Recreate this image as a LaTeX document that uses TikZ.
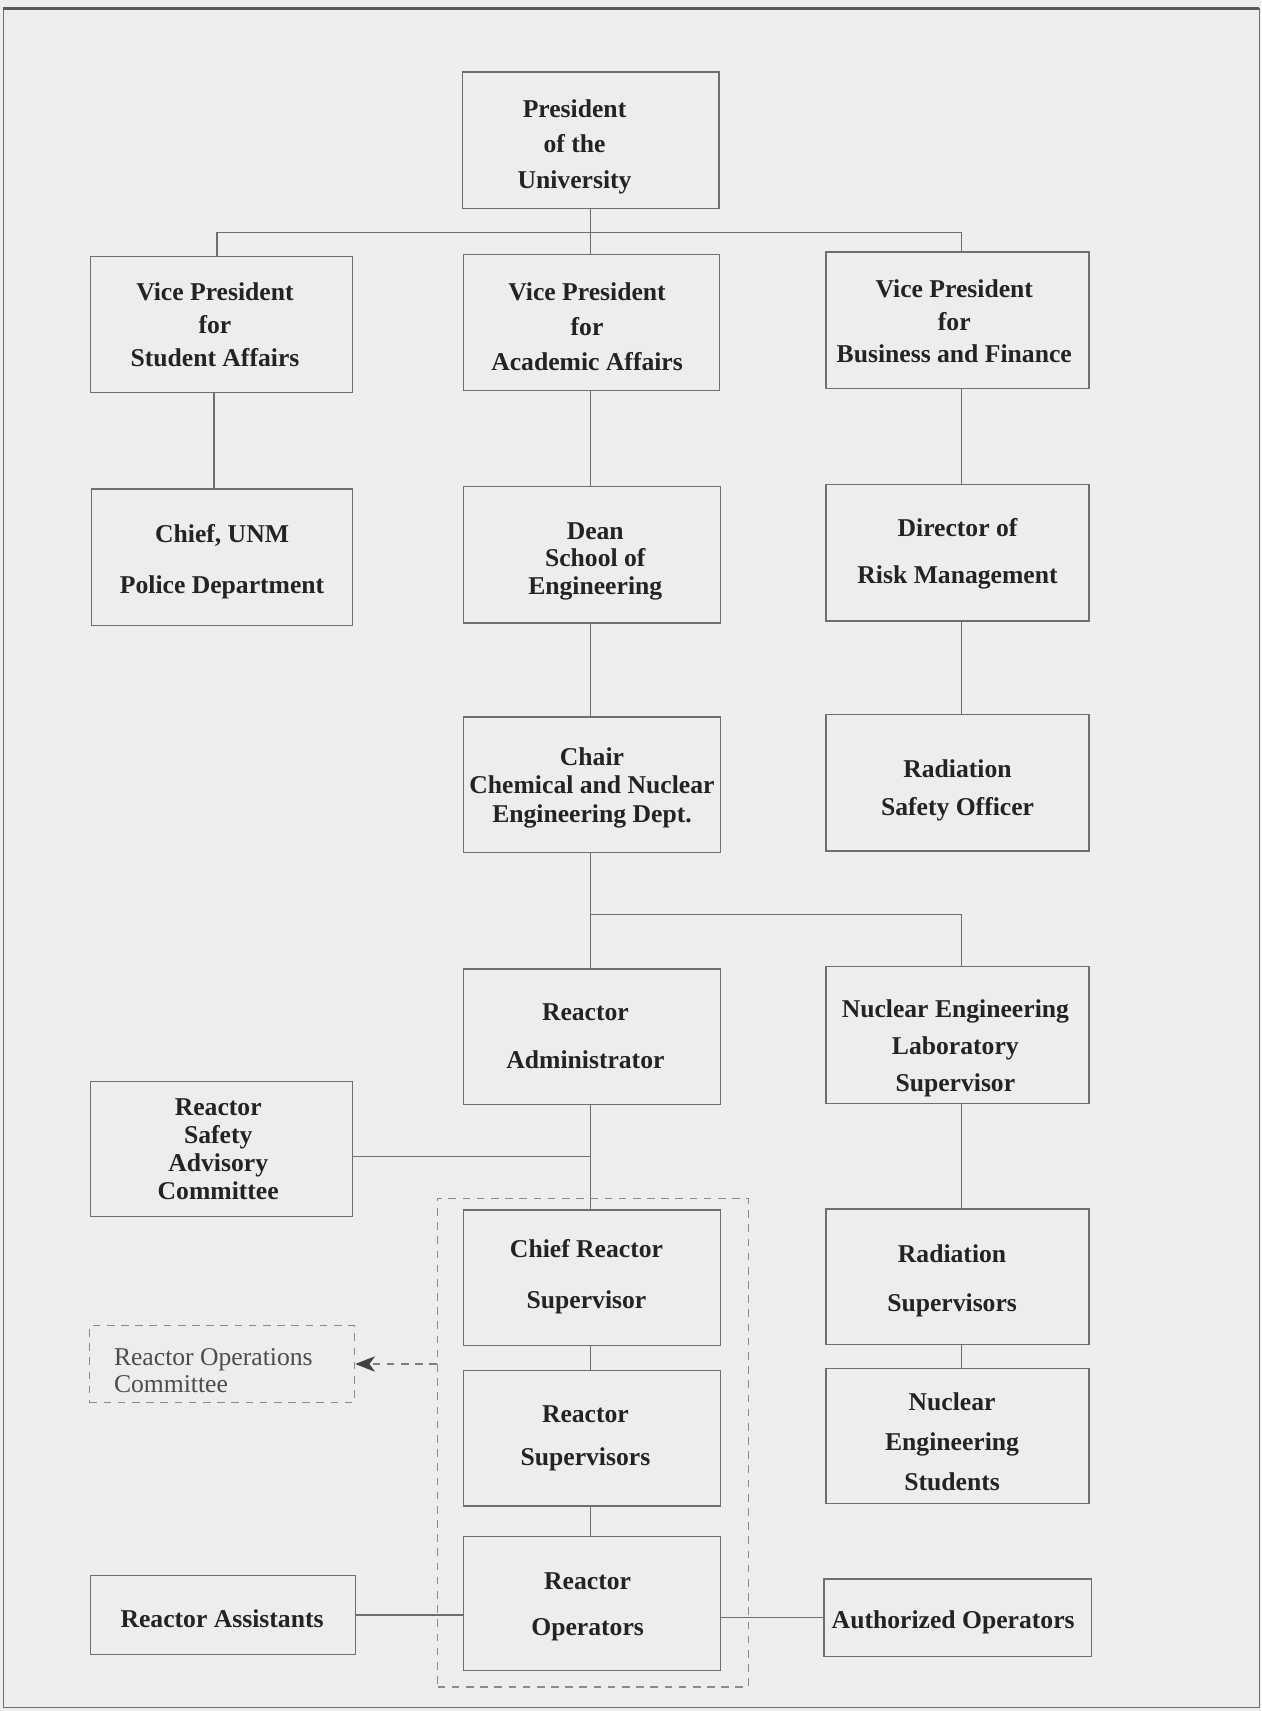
\documentclass[tikz,border=0pt]{standalone}
\usepackage{fontspec}
\setmainfont{Liberation Serif}
\usetikzlibrary{arrows.meta,calc}
\definecolor{bg}{RGB}{237,237,235}
\definecolor{ln}{RGB}{110,110,110}
\definecolor{tx}{RGB}{35,35,35}
\begin{document}
\begin{tikzpicture}[x=1pt,y=-1pt,
  box/.style={draw=ln, line width=1.2pt, inner sep=0pt,
              minimum width=235pt, minimum height=125pt},
  tl/.style={text=tx, align=center, inner sep=0pt},
  bs/.style={font=\fontsize{23.5pt}{#1 pt}\selectfont\bfseries},
  conn/.style={draw=ln, line width=1.2pt},
  dashbox/.style={draw=ln!80, line width=1.1pt, dash pattern=on 7pt off 6pt},
  dconn/.style={draw=ln!90, line width=1.1pt, dash pattern=on 7pt off 6pt,
                -{Stealth[length=18pt,width=14pt,inset=5pt,color=black!75]}}]
\fill[bg] (0,0) rectangle (1156,1568);
\useasboundingbox (0,0) rectangle (1156,1568);
\draw[ln, line width=1.2pt] (3,8) rectangle (1154,1565);
\draw[black!65, line width=2.6pt] (3,8) -- (1154,8);

\coordinate (xm) at (541,0);
\coordinate (xl) at (199,0);
\coordinate (xl2) at (196,0);
\coordinate (xr) at (881,0);

% column nodes
\node[box, label={[tl, bs=32.5, xshift=-15pt, yshift=-6pt]center:{President\\of the\\University}}] (pres) at (541.5,128.5) {};
\node[box, minimum width=240pt, label={[tl, bs=30, xshift=-6pt]center:{Vice President\\for\\Student Affairs}}] (vps) at (203,297.5) {};
\node[box, label={[tl, bs=32, xshift=-4pt, yshift=-4pt]center:{Vice President\\for\\Academic Affairs}}] (vpa) at (542,295.5) {};
\node[box, minimum width=241pt, label={[tl, bs=30, xshift=-3pt, yshift=-1pt]center:{Vice President\\for\\Business and Finance}}] (vpb) at (877.5,293.5) {};
\node[box, minimum width=239pt, label={[tl, bs=47, xshift=0pt, yshift=-4.5pt]center:{Chief, UNM\\Police Department}}] (unm) at (203.5,510.5) {};
\node[box, label={[tl, bs=25.5, xshift=3pt, yshift=-6pt]center:{Dean\\School of\\Engineering}}] (dean) at (542.5,508.5) {};
\node[box, minimum width=241pt, label={[tl, bs=43, yshift=-1pt]center:{Director of\\Risk Management}}] (risk) at (877.5,506.5) {};
\node[box, minimum height=124pt, label={[tl, bs=26, yshift=-3pt]center:{Chair\\Chemical and Nuclear\\Engineering Dept.}}] (chair) at (542.5,719) {};
\node[box, minimum width=241pt, label={[tl, bs=35, yshift=-7pt]center:{Radiation\\Safety Officer}}] (rso) at (877.5,717.5) {};
\node[box, minimum height=124pt, label={[tl, bs=44, xshift=-6pt]center:{Reactor\\Administrator}}] (adm) at (542.5,950) {};
\node[box, minimum width=241pt, label={[tl, bs=34, xshift=-2pt, yshift=-12pt]center:{Nuclear Engineering\\Laboratory\\Supervisor}}] (nel) at (877.5,948.5) {};
\node[box, minimum width=240pt, minimum height=124pt, label={[tl, bs=25.7, xshift=-3pt]center:{Reactor\\Safety\\Advisory\\Committee}}] (rsac) at (203,1053) {};
\node[box, minimum height=124pt, label={[tl, bs=46, xshift=-5pt, yshift=1pt]center:{Chief Reactor\\Supervisor}}] (crs) at (542.5,1171) {};
\node[box, minimum width=241pt, minimum height=124pt, label={[tl, bs=45, xshift=-5pt, yshift=-4pt]center:{Radiation\\Supervisors}}] (rads) at (877.5,1170) {};
\node[box, minimum height=124pt, label={[tl, bs=39, xshift=-6pt]center:{Reactor\\Supervisors}}] (rsup) at (542.5,1318) {};
\node[box, minimum width=241pt, minimum height=124pt, label={[tl, bs=36.5, xshift=-5pt, yshift=-5pt]center:{Nuclear\\Engineering\\Students}}] (nes) at (877.5,1316) {};
\node[box, minimum width=243pt, minimum height=72pt, label={[tl, bs=24, xshift=-1pt, yshift=-3pt]center:{Reactor Assistants}}] (ras) at (204.5,1480) {};
\node[box, minimum height=123pt, label={[tl, bs=43, xshift=-4pt, yshift=-3pt]center:{Reactor\\Operators}}] (rop) at (542.5,1469.5) {};
\node[box, minimum width=245pt, minimum height=71pt, label={[tl, bs=24, xshift=-4pt, yshift=-4pt]center:{Authorized Operators}}] (aop) at (877.5,1482.5) {};

% dashed group and committee
\node[dashbox, minimum width=285pt, minimum height=448pt, inner sep=0pt] (grp) at (543.5,1322) {};
\node[dashbox, minimum width=243pt, minimum height=70pt, inner sep=0pt,
      label={[text=black!70, align=left, inner sep=0pt, font=\fontsize{23.5pt}{25pt}\selectfont,
              xshift=-8pt, yshift=-6pt]center:{Reactor Operations\\Committee}}] (roc) at (203.5,1250) {};

% connectors
\coordinate (b1) at (541,213);
\draw[conn] (pres.south -| xm) -- (b1);
\draw[conn] (vps.north -| xl) |- (b1) -| (vpb.north -| xr);
\draw[conn] (b1) -- (vpa.north -| xm);
\draw[conn] (vps.south -| xl2) -- (unm.north -| xl2);
\draw[conn] (vpa.south -| xm) -- (dean.north -| xm);
\draw[conn] (dean.south -| xm) -- (chair.north -| xm);
\draw[conn] (vpb.south -| xr) -- (risk.north -| xr);
\draw[conn] (risk.south -| xr) -- (rso.north -| xr);
\coordinate (b2) at (541,838);
\draw[conn] (chair.south -| xm) -- (b2) -| (nel.north -| xr);
\draw[conn] (b2) -- (adm.north -| xm);
\coordinate (b3) at (541,1060);
\draw[conn] (adm.south -| xm) -- (crs.north -| xm);
\draw[conn] (rsac.east |- b3) -- (b3);
\draw[conn] (crs.south -| xm) -- (rsup.north -| xm);
\draw[conn] (rsup.south -| xm) -- (rop.north -| xm);
\draw[conn] (nel.south -| xr) -- (rads.north -| xr);
\draw[conn] (rads.south -| xr) -- (nes.north -| xr);
\draw[conn] (ras.east) -- (rop.west |- ras.east);
\draw[conn] (rop.east |- aop.west) -- (aop.west);
\draw[dconn] (grp.west |- roc.east) -- (roc.east);
\end{tikzpicture}
\end{document}
